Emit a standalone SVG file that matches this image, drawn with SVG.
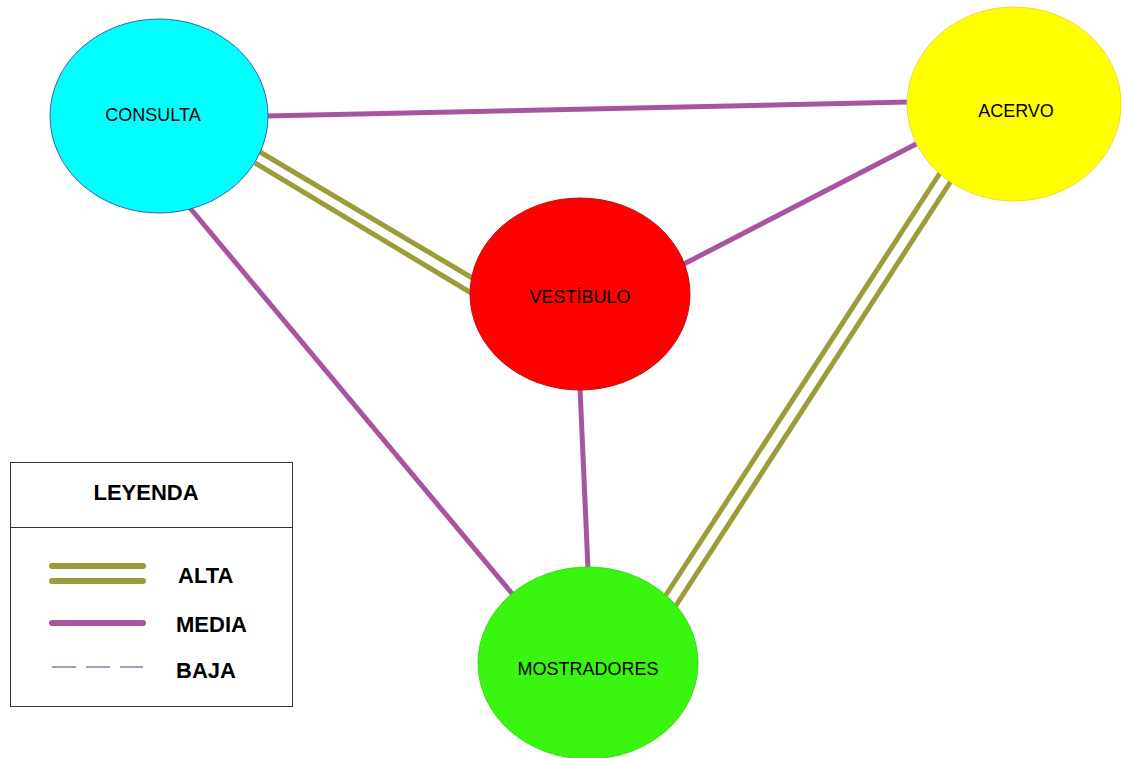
<svg xmlns="http://www.w3.org/2000/svg" width="1121" height="758" viewBox="0 0 1121 758">
<style>
.node text{font-family:"Liberation Sans",Arial,sans-serif;font-size:18px;fill:#000;text-anchor:middle}
.media{stroke:#a855a0;stroke-width:5;fill:none}
.alta{stroke:#9c9c3a;stroke-width:5;fill:none}
.leg{font-family:"Liberation Sans",Arial,sans-serif;font-weight:bold;font-size:22px;fill:#000}
</style>
<rect width="1121" height="758" fill="#fff"/>
<g id="connectors">
<line class="media" x1="266" y1="116" x2="909" y2="102"/>
<line class="alta" x1="260" y1="152" x2="474" y2="279"/>
<line class="alta" x1="255" y1="163" x2="473" y2="294"/>
<line class="media" x1="190" y1="208" x2="514" y2="596"/>
<line class="media" x1="682" y1="265" x2="920" y2="142"/>
<line class="media" x1="580" y1="388" x2="588" y2="569"/>
<line class="alta" x1="940" y1="173" x2="664" y2="598"/>
<line class="alta" x1="951" y1="181" x2="675" y2="607"/>
</g>
<g id="consulta" class="node">
<ellipse cx="159" cy="116" rx="109" ry="97" fill="#00ffff" stroke="#3a62a8" stroke-width="1"/>
<text x="153" y="121">CONSULTA</text>
</g>
<g id="acervo" class="node">
<ellipse cx="1014" cy="104" rx="107" ry="97" fill="#ffff00" stroke="#f2d64a" stroke-width="1"/>
<text x="1016" y="117">ACERVO</text>
</g>
<g id="vestibulo" class="node">
<ellipse cx="580" cy="294" rx="110" ry="96" fill="#ff0000" stroke="#c01010" stroke-width="1"/>
<text x="580" y="303">VESTÍBULO</text>
</g>
<g id="mostradores" class="node">
<ellipse cx="588" cy="663" rx="110" ry="96" fill="#39f50f" stroke="#30e010" stroke-width="1"/>
<text x="588" y="675">MOSTRADORES</text>
</g>
<g id="leyenda">
<rect x="10.5" y="462.5" width="282" height="244" fill="#fff" stroke="#333" stroke-width="1"/>
<line x1="10.5" y1="527.5" x2="292.5" y2="527.5" stroke="#333" stroke-width="1"/>
<text class="leg" x="146" y="500" text-anchor="middle">LEYENDA</text>
<line x1="52" y1="566" x2="143" y2="566" stroke="#9c9c3a" stroke-width="6" stroke-linecap="round"/>
<line x1="52" y1="581" x2="143" y2="581" stroke="#9c9c3a" stroke-width="6" stroke-linecap="round"/>
<text class="leg" x="178" y="583">ALTA</text>
<line x1="52" y1="623" x2="143" y2="623" stroke="#a855a0" stroke-width="6" stroke-linecap="round"/>
<text class="leg" x="176" y="632">MEDIA</text>
<line x1="52" y1="667" x2="143" y2="667" stroke="#9ca2bc" stroke-width="2" stroke-dasharray="24 10"/>
<text class="leg" x="176" y="678">BAJA</text>
</g>
</svg>
